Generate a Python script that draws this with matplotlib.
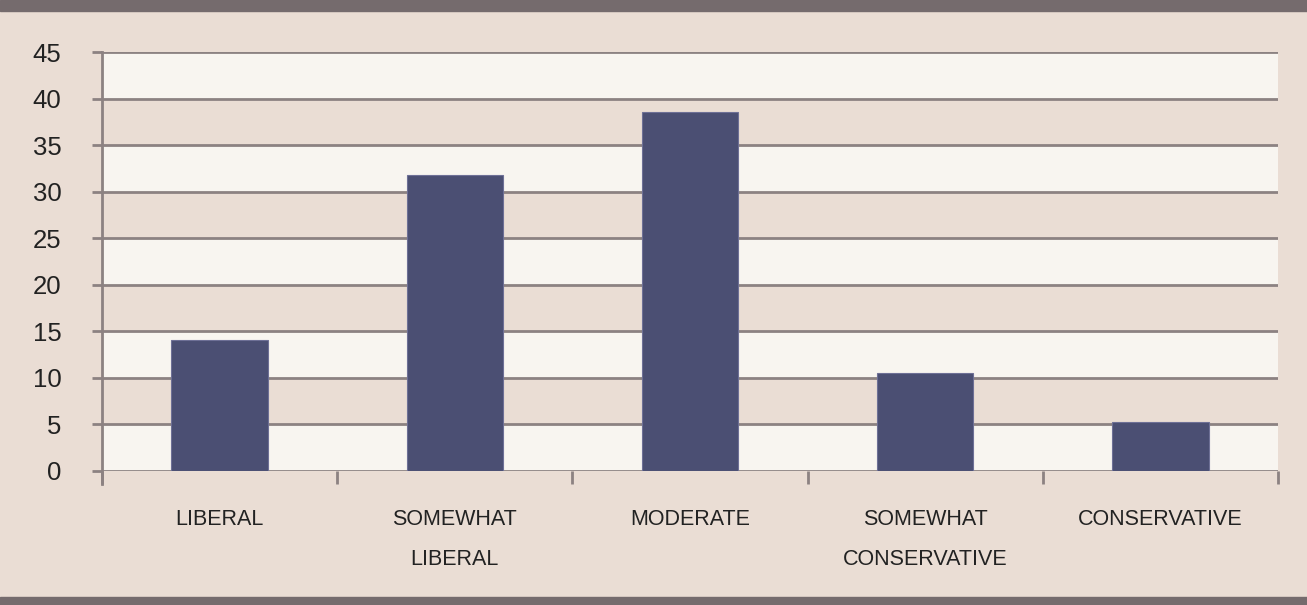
import matplotlib
matplotlib.use("Agg")
import matplotlib.pyplot as plt
from matplotlib import font_manager

categories = ["LIBERAL", "SOMEWHAT\nLIBERAL", "MODERATE", "SOMEWHAT\nCONSERVATIVE", "CONSERVATIVE"]
values = [14.1, 31.8, 38.6, 10.5, 5.3]
yticks = [0, 5, 10, 15, 20, 25, 30, 35, 40, 45]

names = {f.name for f in font_manager.fontManager.ttflist}
fam = ["Liberation Sans Narrow", "DejaVu Sans"] if "Liberation Sans Narrow" in names else ["Liberation Sans", "DejaVu Sans"]
plt.rcParams['font.family'] = fam

bg = "#EADDD4"
light = "#F8F5F0"
grid = "#8C8282"
bar_c = "#4B4F73"

fig = plt.figure(figsize=(13.07, 6.05), dpi=100, facecolor=bg)
ax = fig.add_axes([102/1307, 1-471/605, (1278-102)/1307, (471-52)/605])
ax.set_facecolor(bg)
n = len(categories)
ax.set_xlim(0, n)
ax.set_ylim(0, 45)

for lo in range(0, 45, 10):
    ax.axhspan(lo, lo+5, color=light, zorder=0, lw=0)
for t in yticks:
    ax.axhline(t, color=grid, lw=2, zorder=1)

ax.bar([i+0.5 for i in range(n)], values, width=0.41, color=bar_c, zorder=3,
       edgecolor="#6E7096", linewidth=0.8)

ax.set_yticks(yticks)
ax.set_yticklabels([str(t) for t in yticks], fontsize=18.5, color="#222222")
ax.set_xticks(range(n+1))
ax.set_xticklabels([])
ax.set_xticks([i+0.5 for i in range(n)], minor=True)
ax.set_xticklabels(categories, minor=True, fontsize=15.5, color="#222222", linespacing=2.15,
                   va='top')
ax.tick_params(axis='x', which='minor', length=0, pad=27.5)
ax.tick_params(axis='x', which='major', length=9.4, width=2, color=grid, direction='out')
ax.tick_params(axis='y', length=7.2, width=2, color=grid, direction='out', pad=22)

for s in ['top', 'right']:
    ax.spines[s].set_visible(False)
ax.spines['bottom'].set_visible(False)
ax.spines['left'].set_color(grid)
ax.spines['left'].set_linewidth(2)
ax.spines['left'].set_bounds(-1.4, 45)
ax.spines['left'].set_zorder(4)

# top and bottom dark bands
fig.patches.append(plt.Rectangle((0, 1-11/605), 1, 11/605, transform=fig.transFigure, color="#756B6D", zorder=5))
fig.patches.append(plt.Rectangle((0, 0), 1, 8/605, transform=fig.transFigure, color="#756B6D", zorder=5))

fig.savefig("out.png", dpi=100, facecolor=bg)
